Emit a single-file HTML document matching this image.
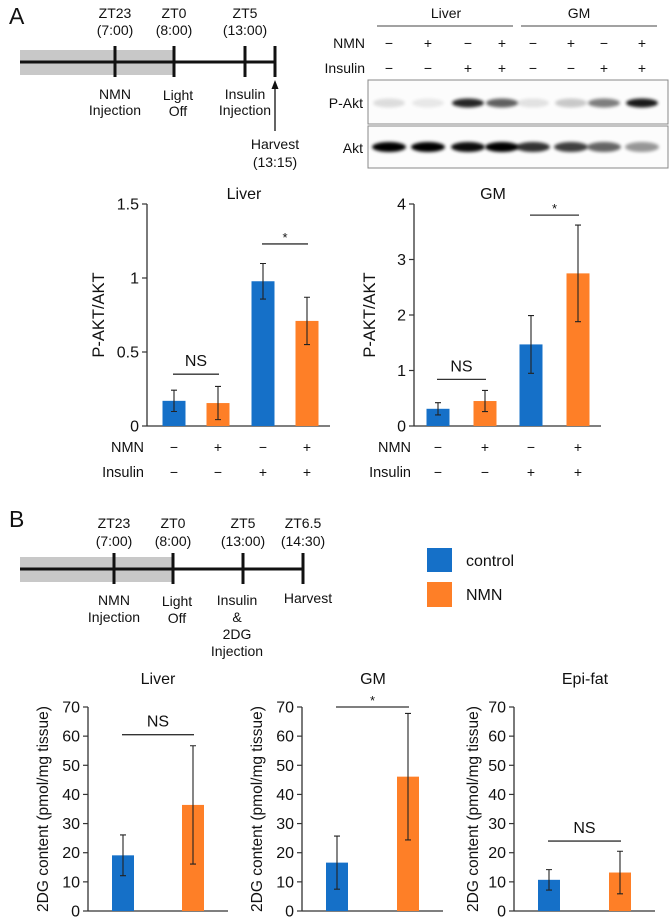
<!DOCTYPE html>
<html><head><meta charset="utf-8"><style>
html,body{margin:0;padding:0;background:#fff;}
svg{display:block;font-family:"Liberation Sans",Arial,sans-serif;}
</style></head><body>
<svg id="fig" width="669" height="919" viewBox="0 0 669 919" xmlns="http://www.w3.org/2000/svg">
<defs><filter id="blur" x="-20%" y="-100%" width="140%" height="300%"><feGaussianBlur stdDeviation="1.6"/></filter></defs>
<g font-size="14" text-anchor="middle" fill="#111">
<text x="9" y="24" font-size="23" text-anchor="start">A</text>
<rect x="20" y="50" width="154" height="25" fill="#c8c8c8"/>
<line x1="20" y1="62" x2="275" y2="62" stroke="#111" stroke-width="3"/>
<line x1="115" y1="46" x2="115" y2="77" stroke="#111" stroke-width="3"/>
<line x1="174" y1="46" x2="174" y2="77" stroke="#111" stroke-width="3"/>
<line x1="245" y1="46" x2="245" y2="77" stroke="#111" stroke-width="3"/>
<line x1="275" y1="46" x2="275" y2="77" stroke="#111" stroke-width="3"/>
<line x1="275" y1="131" x2="275" y2="88" stroke="#111" stroke-width="1.3"/>
<polygon points="275,80 271.5,89 278.5,89" fill="#111"/>
<text x="115" y="18">ZT23</text><text x="115" y="35">(7:00)</text>
<text x="174" y="18">ZT0</text><text x="174" y="35">(8:00)</text>
<text x="245" y="18">ZT5</text><text x="245" y="35">(13:00)</text>
<text x="115" y="99">NMN</text><text x="115" y="115">Injection</text>
<text x="178" y="100">Light</text><text x="178" y="116">Off</text>
<text x="245" y="99">Insulin</text><text x="245" y="115">Injection</text>
<text x="275" y="149">Harvest</text><text x="275" y="167">(13:15)</text>
</g>
<g id="blot" font-size="14" fill="#111">
<text x="446" y="18" text-anchor="middle">Liver</text>
<line x1="377" y1="26" x2="513" y2="26" stroke="#444" stroke-width="1"/>
<text x="579" y="18" text-anchor="middle">GM</text>
<line x1="521" y1="26" x2="657" y2="26" stroke="#444" stroke-width="1"/>
<text x="365" y="48" text-anchor="end">NMN</text>
<text x="365" y="73" text-anchor="end">Insulin</text>
<text x="363" y="108" text-anchor="end">P-Akt</text>
<text x="363" y="153" text-anchor="end">Akt</text>
<rect x="368" y="80" width="300" height="44" fill="#fcfcfc" stroke="#888" stroke-width="1"/>
<rect x="368" y="126" width="300" height="42" fill="#fcfcfc" stroke="#888" stroke-width="1"/>
</g>
<g id="chartA1"></g>
<g id="chartA2"></g>
<g font-size="14" text-anchor="middle" fill="#111">
<text x="9" y="527" font-size="23" text-anchor="start">B</text>
<rect x="20" y="557" width="154" height="25" fill="#c8c8c8"/>
<line x1="20" y1="569" x2="303" y2="569" stroke="#111" stroke-width="3"/>
<line x1="114" y1="553" x2="114" y2="584" stroke="#111" stroke-width="3"/>
<line x1="173" y1="553" x2="173" y2="584" stroke="#111" stroke-width="3"/>
<line x1="243" y1="553" x2="243" y2="584" stroke="#111" stroke-width="3"/>
<line x1="303" y1="553" x2="303" y2="584" stroke="#111" stroke-width="3"/>
<text x="114" y="528">ZT23</text><text x="114" y="546">(7:00)</text>
<text x="173" y="528">ZT0</text><text x="173" y="546">(8:00)</text>
<text x="243" y="528">ZT5</text><text x="243" y="546">(13:00)</text>
<text x="303" y="528">ZT6.5</text><text x="303" y="546">(14:30)</text>
<text x="114" y="605">NMN</text><text x="114" y="622">Injection</text>
<text x="177" y="606">Light</text><text x="177" y="623">Off</text>
<text x="237" y="605">Insulin</text><text x="237" y="622">&amp;</text><text x="237" y="639">2DG</text><text x="237" y="656">Injection</text>
<text x="308" y="603">Harvest</text>
</g>
<g font-size="16" fill="#111">
<rect x="427" y="548" width="25" height="24" fill="#1570c8"/>
<text x="466" y="566">control</text>
<rect x="427" y="582" width="25" height="25" fill="#fe7f27"/>
<text x="466" y="600">NMN</text>
</g>
<g id="chartB1"></g>
<g id="chartB2"></g>
<g id="chartB3"></g>
</svg>
<script>
const lanePos = [389, 428, 468, 502, 533, 571, 604, 642];
const pAktIntensity = [0.12, 0.08, 0.85, 0.62, 0.1, 0.2, 0.5, 0.9];
const aktIntensity = [1.0, 1.0, 0.95, 1.0, 0.8, 0.75, 0.6, 0.4];

const groupsA = ['ctrl-basal', 'nmn-basal', 'ctrl-insulin', 'nmn-insulin'];
const nmnSigns = ['−', '+', '−', '+'];
const insulinSigns = ['−', '−', '+', '+'];
const liverAValues = [0.17, 0.155, 0.978, 0.71];
const liverAErr = [0.072, 0.112, 0.12, 0.16];
const liverATicks = [0, 0.5, 1, 1.5];
const liverATickLabels = ['0', '0.5', '1', '1.5'];
const gmAValues = [0.31, 0.45, 1.47, 2.75];
const gmAErr = [0.11, 0.19, 0.52, 0.87];
const gmATicks = [0, 1, 2, 3, 4];
const gmATickLabels = ['0', '1', '2', '3', '4'];

const groupsB = ['control', 'NMN'];
const liverBValues = [19.1, 36.4];
const liverBErr = [7.0, 20.3];
const gmBValues = [16.6, 46.1];
const gmBErr = [9.1, 21.7];
const epiBValues = [10.7, 13.2];
const epiBErr = [3.5, 7.3];
const bTicks = [0, 10, 20, 30, 40, 50, 60, 70];
const bTickLabels = ['0', '10', '20', '30', '40', '50', '60', '70'];

const NS = 'http://www.w3.org/2000/svg';
const COLORS = ['#1570c8', '#fe7f27'];
function mk(parent, tag, attrs, text) {
  const e = document.createElementNS(NS, tag);
  for (const k in attrs) e.setAttribute(k, attrs[k]);
  if (text !== undefined) e.textContent = text;
  parent.appendChild(e);
  return e;
}

const blot = document.getElementById('blot');
lanePos.forEach((x, i) => {
  const b = mk(blot, 'ellipse', {cx: x, cy: 103, rx: 16, ry: 4.5, fill: '#000', opacity: pAktIntensity[i], filter: 'url(#blur)'});
  
  
  const a = mk(blot, 'ellipse', {cx: x, cy: 147, rx: 17, ry: 5, fill: '#000', opacity: aktIntensity[i], filter: 'url(#blur)'});
  
  
});
lanePos.forEach((x, i) => {
  const t1 = mk(blot, 'text', {x: x, y: 48, 'text-anchor': 'middle'}, nmnSigns[i % 4]);
  
  
  const t2 = mk(blot, 'text', {x: x, y: 73, 'text-anchor': 'middle'}, insulinSigns[i % 4]);
  
  
});

function barChart(g, o) {
  const yMax = o.ticks[o.ticks.length - 1];
  const y = v => o.y0 - (v / yMax) * (o.y0 - o.yTop);
  const x = i => o.x0 + o.offsets[i];
  const t = mk(g, 'text', {x: o.titleX, y: o.titleY, 'text-anchor': 'middle', 'font-size': 16, fill: '#111'}, o.title);
  
  
  const yt = mk(g, 'text', {x: 0, y: 0, 'text-anchor': 'middle', 'font-size': o.yFont, fill: '#111', transform: `translate(${o.yTitleX},${(o.y0 + o.yTop) / 2}) rotate(-90)`}, o.yTitle);
  
  
  const ya = mk(g, 'line', {x1: o.x0, y1: o.yTop, x2: o.x0, y2: o.y0, stroke: '#333', 'stroke-width': 1.3});
  
  
  const xa = mk(g, 'line', {x1: o.x0, y1: o.y0, x2: o.x1, y2: o.y0, stroke: '#333', 'stroke-width': 1.3});
  
  
  o.ticks.forEach((v, i) => {
    mk(g, 'line', {x1: o.x0 - 5, y1: y(v), x2: o.x0, y2: y(v), stroke: '#333', 'stroke-width': 1.2});
    const tl = mk(g, 'text', {x: o.x0 - 8, y: y(v) + 5.5, 'text-anchor': 'end', 'font-size': 16, fill: '#111'}, o.tickLabels[i]);
    
    
  });
  o.values.forEach((v, i) => {
    const r = mk(g, 'rect', {x: x(i) - o.bw / 2, y: y(v), width: o.bw, height: o.y0 - y(v), fill: COLORS[i % 2]});
    
    
    const e = o.err[i];
    const eb = mk(g, 'path', {d: `M${x(i)},${y(v + e)}V${y(v - e)}M${x(i) - 3},${y(v + e)}H${x(i) + 3}M${x(i) - 3},${y(v - e)}H${x(i) + 3}`, stroke: '#222', 'stroke-width': 1.1, fill: 'none'});
    
    
  });
  (o.sig || []).forEach(s => {
    const ly = y(s.level);
    const l = mk(g, 'line', {x1: x(s.a) - 1, y1: ly, x2: x(s.b) + 1, y2: ly, stroke: '#333', 'stroke-width': 1.3});
    
    
    const st = mk(g, 'text', {x: (x(s.a) + x(s.b)) / 2, y: s.label === '*' ? ly - 2 : ly - 8, 'text-anchor': 'middle', 'font-size': s.label === '*' ? 13 : 16, fill: '#111'}, s.label);
    
    
  });
  if (o.rows) {
    const r1 = mk(g, 'text', {x: o.x0 - 3, y: 452, 'text-anchor': 'end', 'font-size': 14.5, fill: '#111'}, 'NMN');
    
    
    const r2 = mk(g, 'text', {x: o.x0 - 3, y: 477, 'text-anchor': 'end', 'font-size': 14.5, fill: '#111'}, 'Insulin');
    
    
    o.values.forEach((v, i) => {
      const a = mk(g, 'text', {x: x(i), y: 452, 'text-anchor': 'middle', 'font-size': 14, fill: '#111'}, nmnSigns[i]);
      
      
      const b = mk(g, 'text', {x: x(i), y: 477, 'text-anchor': 'middle', 'font-size': 14, fill: '#111'}, insulinSigns[i]);
      
      
    });
  }
}

barChart(document.getElementById('chartA1'), {title: 'Liver', titleX: 244, titleY: 199, yTitle: 'P-AKT/AKT', yTitleX: 104, yFont: 16.5,
  x0: 147, x1: 330, y0: 426, yTop: 204, offsets: [27, 71, 116, 160], bw: 23, groups: groupsA,
  values: liverAValues, err: liverAErr, ticks: liverATicks, tickLabels: liverATickLabels, rows: true,
  sig: [{a: 0, b: 1, level: 0.35, label: 'NS'}, {a: 2, b: 3, level: 1.23, label: '*'}]});
barChart(document.getElementById('chartA2'), {title: 'GM', titleX: 493, titleY: 199, yTitle: 'P-AKT/AKT', yTitleX: 375, yFont: 16.5,
  x0: 414, x1: 601, y0: 426, yTop: 204, offsets: [24, 71, 117, 164], bw: 23, groups: groupsA,
  values: gmAValues, err: gmAErr, ticks: gmATicks, tickLabels: gmATickLabels, rows: true,
  sig: [{a: 0, b: 1, level: 0.84, label: 'NS'}, {a: 2, b: 3, level: 3.8, label: '*'}]});
barChart(document.getElementById('chartB1'), {title: 'Liver', titleX: 158, titleY: 684, yTitle: '2DG content (pmol/mg tissue)', yTitleX: 48, yFont: 15.5,
  x0: 88, x1: 228, y0: 911, yTop: 707, offsets: [35, 105], bw: 22, groups: groupsB,
  values: liverBValues, err: liverBErr, ticks: bTicks, tickLabels: bTickLabels,
  sig: [{a: 0, b: 1, level: 60.5, label: 'NS'}]});
barChart(document.getElementById('chartB2'), {title: 'GM', titleX: 373, titleY: 684, yTitle: '2DG content (pmol/mg tissue)', yTitleX: 262, yFont: 15.5,
  x0: 302, x1: 443, y0: 911, yTop: 707, offsets: [35, 106], bw: 22, groups: groupsB,
  values: gmBValues, err: gmBErr, ticks: bTicks, tickLabels: bTickLabels,
  sig: [{a: 0, b: 1, level: 70, label: '*'}]});
barChart(document.getElementById('chartB3'), {title: 'Epi-fat', titleX: 585, titleY: 684, yTitle: '2DG content (pmol/mg tissue)', yTitleX: 478, yFont: 15.5,
  x0: 514, x1: 655, y0: 911, yTop: 707, offsets: [35, 106], bw: 22, groups: groupsB,
  values: epiBValues, err: epiBErr, ticks: bTicks, tickLabels: bTickLabels,
  sig: [{a: 0, b: 1, level: 24, label: 'NS'}]});
</script>
</body></html>
